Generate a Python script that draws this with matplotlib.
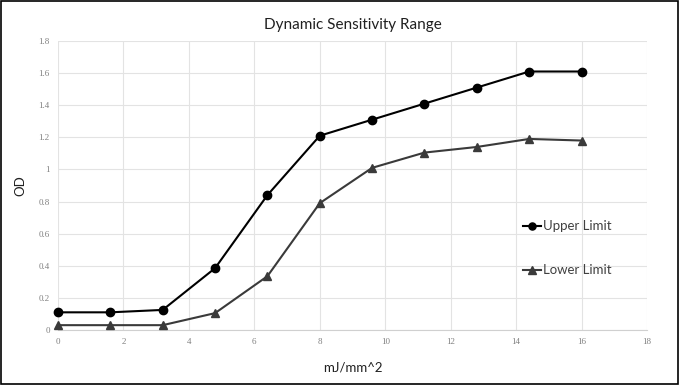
import matplotlib.pyplot as plt
from matplotlib.patches import Rectangle

# data
energy = [0, 1.6, 3.2, 4.8, 6.4, 8, 9.6, 11.2, 12.8, 14.4, 16]
upper_limit = [0.11, 0.11, 0.125, 0.385, 0.84, 1.21, 1.31, 1.41, 1.51, 1.61, 1.61]
lower_limit = [0.03, 0.03, 0.03, 0.105, 0.335, 0.79, 1.01, 1.105, 1.14, 1.19, 1.18]
x_ticks = [0, 2, 4, 6, 8, 10, 12, 14, 16, 18]
y_ticks = [0, 0.2, 0.4, 0.6, 0.8, 1.0, 1.2, 1.4, 1.6, 1.8]
y_tick_labels = ['0', '0.2', '0.4', '0.6', '0.8', '1', '1.2', '1.4', '1.6', '1.8']

TEXT_FONT = ['Lato', 'DejaVu Sans']
TICK_FONT = ['Liberation Serif', 'DejaVu Serif']

fig = plt.figure(figsize=(6.79, 3.85), dpi=100)
ax = fig.add_axes([0.0854, 0.1429, 0.8675, 0.7506])

ax.plot(energy, upper_limit, color='black', lw=1.5, marker='o', ms=6,
        label='Upper Limit', clip_on=False, zorder=3)
ax.plot(energy, lower_limit, color='#3a3a3a', lw=1.5, marker='^', ms=6,
        label='Lower Limit', clip_on=False, zorder=3)

ax.set_xlim(0, 18)
ax.set_ylim(0, 1.8)
ax.set_xticks(x_ticks)
ax.set_yticks(y_ticks)
ax.set_yticklabels(y_tick_labels)
ax.tick_params(length=0, labelsize=6.5, labelcolor='#808080', pad=6)
for lab in ax.get_xticklabels() + ax.get_yticklabels():
    lab.set_family(TICK_FONT)

ax.grid(True, color='#e3e3e3', lw=0.8)
ax.set_axisbelow(True)
for side in ['top', 'right', 'left']:
    ax.spines[side].set_visible(False)
ax.spines['bottom'].set_color('#d0d0d0')

ax.set_title('Dynamic Sensitivity Range', family=TEXT_FONT, fontsize=11, pad=9, color='#202020')
ax.set_xlabel('mJ/mm^2', family=TEXT_FONT, fontsize=9.5, labelpad=11, color='#202020')
ax.set_ylabel('OD', family=TEXT_FONT, fontsize=9.5, labelpad=9, color='#202020')

leg = ax.legend(loc='upper left', bbox_to_anchor=(0.77, 0.42), frameon=False,
                prop={'family': TEXT_FONT, 'size': 9.5}, labelspacing=2.4,
                handlelength=1.3, handletextpad=0.2, markerscale=0.85)
for t in leg.get_texts():
    t.set_color('#404040')

fig.patches.append(Rectangle((0.002, 0.003), 0.996, 0.994, transform=fig.transFigure,
                             fill=False, edgecolor='black', lw=1.2))

fig.savefig('out.png', dpi=100)
